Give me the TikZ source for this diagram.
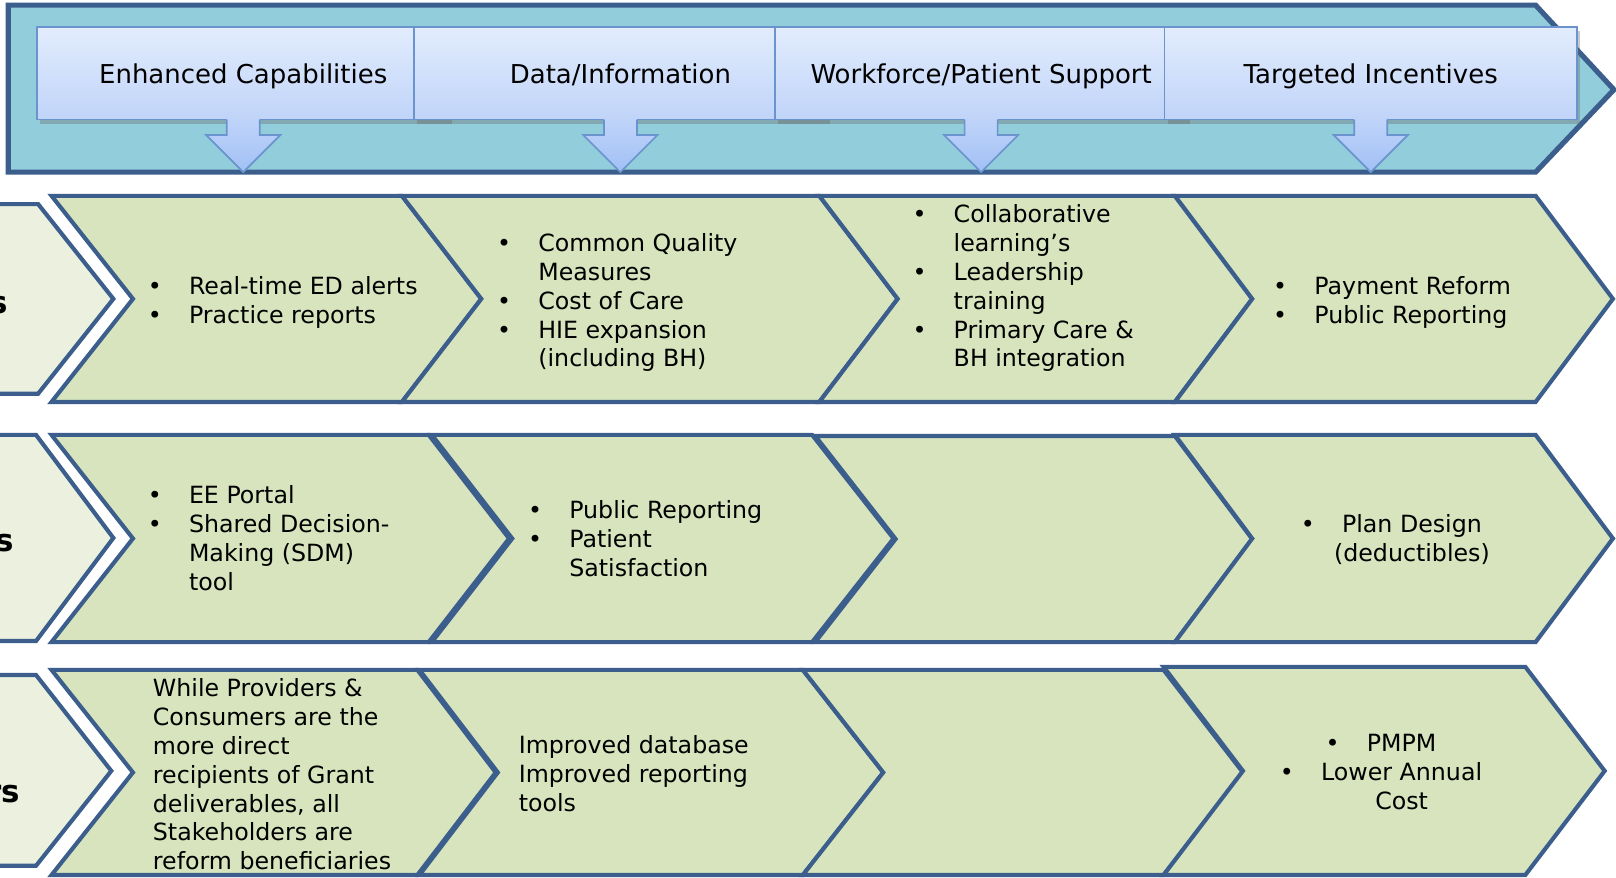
\documentclass[tikz,border=0pt]{standalone}
\usepackage{fontspec}
\setmainfont{DejaVu Sans}
\usetikzlibrary{shadows}
\definecolor{bannerfill}{HTML}{92CDDC}
\definecolor{edge}{HTML}{3B5E8C}
\definecolor{greenfill}{HTML}{D7E4BD}
\definecolor{labelfill}{HTML}{EBF1DE}
\definecolor{boxtop}{HTML}{E2ECFD}
\definecolor{boxbot}{HTML}{C0D4F9}
\definecolor{boxedge}{HTML}{6B93CE}
\definecolor{arrbot}{HTML}{A1C0F5}
\newcommand\bul{\makebox[20pt][l]{•}}
\newcommand\ind{\hspace*{20pt}}
\newcommand\lbul{\llap{\makebox[20pt][l]{•}}}
\tikzset{
 banner/.style={fill=bannerfill, draw=edge, line width=2.5pt, line join=miter},
 chev/.style={fill=greenfill, draw=edge, line width=2pt, line join=miter},
 lab/.style={fill=labelfill, draw=edge, line width=2pt, line join=miter},
 hbox/.style={top color=boxtop, bottom color=boxbot, draw=boxedge, line width=0.8pt,
   drop shadow={shadow xshift=1.5pt, shadow yshift=-2pt, opacity=0.35, fill=black!60}},
 harrow/.style={top color=boxbot, bottom color=arrbot},
 harrowline/.style={draw=boxedge, line width=0.8pt, line join=miter},
 htext/.style={font=\fontsize{12.6}{15}\selectfont, inner sep=0, anchor=base},
 body/.style={font=\fontsize{11.5}{14}\selectfont, inner sep=0, anchor=north west, align=left},
 bodyc/.style={font=\fontsize{11.5}{14}\selectfont, inner sep=0, anchor=north, align=center},
 labtext/.style={font=\fontsize{15}{18}\selectfont\bfseries, inner sep=0, anchor=base east},
}
\newcommand\hdr[3]{%
 \path[hbox] (#2-200,26) rectangle (#2+200,116);
 \node[htext] (#1) at (#2,81) {#3};
 \path[harrow] (#2-16,115) -- (#2-16,131) -- (#2-36,131) -- (#2,167) -- (#2+36,131) -- (#2+16,131) -- (#2+16,115) -- cycle;
 \draw[harrowline] (#2-16,116) -- (#2-16,131) -- (#2-36,131) -- (#2,167) -- (#2+36,131) -- (#2+16,131) -- (#2+16,116);
}
\newcommand\chevron[6]{% xl xr top bot depth notchdepth
 \path[chev] (#1,#3) -- (#2,#3) -- ({#2+#5},{(#3+#4)/2}) -- (#2,#4) -- (#1,#4) -- ({#1+#6},{(#3+#4)/2}) -- cycle;
}
\begin{document}
\begin{tikzpicture}[x=0.5pt,y=-0.5pt]
\useasboundingbox (0,0) rectangle (1568,851);
\fill[white] (0,0) rectangle (1568,851);
\begin{scope}
\clip (0,0) rectangle (1568,851);
% banner
\path[banner] (8,5) -- (1490,5) -- (1566,87) -- (1490,167) -- (8,167) -- cycle;
\hdr{h1}{236}{Enhanced Capabilities}
\hdr{h2}{602}{Data/Information}
\hdr{h3}{952}{Workforce/Patient Support}
\hdr{h4}{1330}{Targeted Incentives}
% left label chevrons
\path[lab] (-10,198) -- (37,198) -- (110,290) -- (37,382) -- (-10,382) -- cycle;
\path[lab] (-10,422) -- (35,422) -- (110,522) -- (35,622) -- (-10,622) -- cycle;
\path[lab] (-10,655) -- (35,655) -- (108,748) -- (35,840) -- (-10,840) -- cycle;
\node[labtext] (l1) at (8,304) {s};
\node[labtext] (l2) at (14,535) {s};
\node[labtext] (l3) at (20,779) {rs};
% row 1
\chevron{50}{390}{190}{390}{77}{79}
\chevron{390}{795}{190}{390}{76}{77}
\chevron{795}{1140}{190}{390}{75}{76}
\chevron{1140}{1490}{190}{390}{75}{75}
% row 2
\chevron{50}{416}{422}{623}{78}{79}
\chevron{419}{788}{422}{623}{79}{78}
\chevron{791}{1140}{423}{623}{75}{78}
\chevron{1140}{1490}{422}{623}{75}{75}
% row 3
\chevron{50}{405}{650}{849}{76}{79}
\chevron{407}{779}{650}{849}{78}{76}
\chevron{779}{1129}{650}{849}{77}{78}
\chevron{1129}{1480}{647}{849}{77}{77}
% row 1 texts
\node[body] (r1a) at (143,266) {\strut\bul Real-time ED alerts\\ \bul Practice reports};
\node[body] (r1b) at (482,224) {\strut\bul Common Quality\\ \ind Measures\\ \bul Cost of Care\\ \bul HIE expansion\\ \ind (including BH)};
\node[body] (r1c) at (885,196) {\strut\bul Collaborative\\ \ind learning’s\\ \bul Leadership\\ \ind training\\ \bul Primary Care \&\\ \ind BH integration};
\node[body] (r1d) at (1235,266) {\strut\bul Payment Reform\\ \bul Public Reporting};
% row 2 texts
\node[body] (r2a) at (143,469) {\strut\bul EE Portal\\ \bul Shared Decision-\\ \ind Making (SDM)\\ \ind tool};
\node[body] (r2b) at (512,483) {\strut\bul Public Reporting\\ \bul Patient\\ \ind Satisfaction};
\node[bodyc] (r2d) at (1370,497) {\strut\lbul Plan Design\\ (deductibles)};
% row 3 texts
\node[body] (r3a) at (148,656) {\strut While Providers \&\\ Consumers are the\\ more direct\\ recipients of Grant\\ deliverables, all\\ Stakeholders are\\ reform beneficiaries};
\node[body] (r3b) at (503,711) {\strut Improved database\\ Improved reporting\\ tools};
\node[bodyc] (r3d) at (1360,709) {\strut\lbul PMPM\\ \lbul Lower Annual\\ Cost};
\end{scope}
\end{tikzpicture}
\end{document}
